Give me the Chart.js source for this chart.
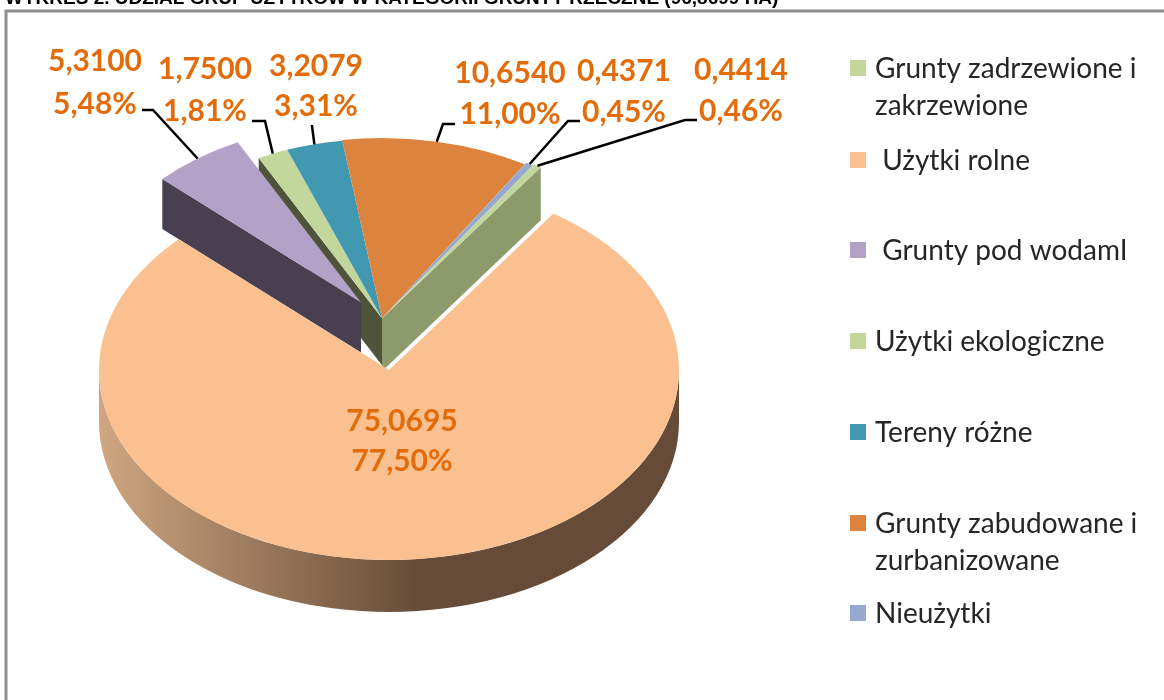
<!DOCTYPE html>
<html>
<head>
<meta charset="utf-8">
<script src="https://cdn.jsdelivr.net/npm/chart.js@4"></script>
<style>
html,body{margin:0;padding:0;background:#fff;overflow:hidden;}
#wrap{position:relative;width:1164px;height:700px;}
</style>
</head>
<body>
<div id="wrap"><canvas id="pieChart" width="1164" height="700"></canvas></div>
<script>
// DATA
const titleText = "WYKRES 2. UDZIAŁ GRUP UŻYTKÓW W KATEGORII GRUNTY RZECZNE (96,8699 HA)";
const categories = [
  "Grunty zadrzewione i zakrzewione",
  "Użytki rolne",
  "Grunty pod wodamI",
  "Użytki ekologiczne",
  "Tereny różne",
  "Grunty zabudowane i zurbanizowane",
  "Nieużytki"
];
const legendLines = [
  ["Grunty zadrzewione i", "zakrzewione"],
  [" Użytki rolne"],
  [" Grunty pod wodamI"],
  ["Użytki ekologiczne"],
  ["Tereny różne"],
  ["Grunty zabudowane i", "zurbanizowane"],
  ["Nieużytki"]
];
const valuesHa = [0.4414, 75.0695, 5.3100, 1.7500, 3.2079, 10.6540, 0.4371];
const valueLabels = ["0,4414", "75,0695", "5,3100", "1,7500", "3,2079", "10,6540", "0,4371"];
const shareLabels = ["0,46%", "77,50%", "5,48%", "1,81%", "3,31%", "11,00%", "0,45%"];

// STYLE
const sliceColors = ["#c3d69b", "#fbc08f", "#b3a2c7", "#c3d69b", "#4298b0", "#dc843d", "#95a9d1"];
const textOrange = "#e36c0a";
const tilt = 0.655;
const startRotation = 32.9;

// how far each slice is pulled out of the pie, before the tilt
const sliceShift = [[-7,-79],[0,0],[-28,-103],[-7,-79],[-7,-79],[-7,-79],[-7,-79]];
const sliceRadius = [280, 290, 274, 274, 274, 275, 278];
const sliceDepth = [53, 52, 50, 47, 47, 47, 47];
const sideWalls = [[3,"startAngle","#4f5339"],[2,"startAngle","#483f50"],[0,"endAngle","#8d9a6c"]];
const topOrder = [2,3,4,5,6,0];

// where each label sits: value line, share line, leader start, leader elbow
const labelPos = [
  {x:741, y1:70, y2:111, line:[[697,120],[685,120]]},
  {x:402, y1:421, y2:461, line:null},
  {x:95, y1:61, y2:104, line:[[142,110],[153,110]]},
  {x:205, y1:69, y2:111, line:[[252,121],[265,121]]},
  {x:316, y1:66, y2:106, line:[[312,125],[312,126]]},
  {x:510, y1:73, y2:114, line:[[455,124],[443,124]]},
  {x:624, y1:71, y2:112, line:[[580,121],[568,121]]}
];
const legendY = [69,161,251,342,433,524,614];

// PIE
function rimPath(ctx,arc,depth){
  const lo = Math.max(arc.startAngle,0);
  const hi = Math.min(arc.endAngle,Math.PI);
  ctx.beginPath();
  ctx.arc(arc.x,arc.y,arc.outerRadius,lo,hi);
  ctx.arc(arc.x,arc.y+depth,arc.outerRadius,hi,lo,true);
  ctx.closePath();
}

function wallPath(ctx,arc,angle,depth){
  const ex = arc.x+arc.outerRadius*Math.cos(angle);
  const ey = arc.y+arc.outerRadius*Math.sin(angle);
  ctx.beginPath();
  ctx.moveTo(arc.x,arc.y);
  ctx.lineTo(ex,ey);
  ctx.lineTo(ex,ey+depth);
  ctx.lineTo(arc.x,arc.y+depth);
  ctx.closePath();
}

const pie3d = {
  id:"pie3d",
  afterDatasetsUpdate(chart){
    chart.getDatasetMeta(0).data.forEach((arc,i)=>{
      arc.x += sliceShift[i][0];
      arc.y += sliceShift[i][1];
      arc.outerRadius = sliceRadius[i];
    });
  },
  beforeDatasetsDraw(chart){
    const ctx = chart.ctx;
    const arcs = chart.getDatasetMeta(0).data;
    const big = arcs[1];
    const pivot = big.y;

    ctx.save();
    ctx.translate(0,pivot);
    ctx.scale(1,tilt);
    ctx.translate(0,-pivot);

    sideWalls.forEach(w=>{
      const arc = arcs[w[0]];
      wallPath(ctx,arc,arc[w[1]],sliceDepth[w[0]]/tilt);
      ctx.fillStyle = w[2];
      ctx.fill();
    });

    topOrder.forEach(i=>arcs[i].draw(ctx));

    const grad = ctx.createLinearGradient(big.x-big.outerRadius,0,big.x+big.outerRadius,0);
    grad.addColorStop(0,"#cfa680");
    grad.addColorStop(0.55,"#664c38");
    grad.addColorStop(1,"#664c38");
    rimPath(ctx,big,sliceDepth[1]/tilt);
    ctx.fillStyle = grad;
    ctx.fill();

    big.draw(ctx);
    ctx.restore();

    return false;
  }
};

// LABELS
const decorations = {
  id:"decorations",
  beforeDraw(chart){
    const ctx = chart.ctx;
    ctx.save();
    ctx.strokeStyle = "#8e8e8e";
    ctx.lineWidth = 3;
    ctx.strokeRect(6,11,1400,900);
    ctx.restore();
  },
  afterDraw(chart){
    const ctx = chart.ctx;
    const arcs = chart.getDatasetMeta(0).data;
    const pivot = arcs[1].y;
    ctx.save();

    // title, cut by the top of the page like in the scan
    ctx.fillStyle = "#000";
    ctx.font = "bold 19px 'Liberation Sans'";
    ctx.textAlign = "left";
    ctx.textBaseline = "alphabetic";
    ctx.fillText(titleText,5,4);

    // leaders
    ctx.strokeStyle = "#000";
    ctx.lineWidth = 2.5;
    labelPos.forEach((p,i)=>{
      if(!p.line) return;
      const arc = arcs[i];
      const mid = (arc.startAngle+arc.endAngle)/2;
      const rx = arc.x+arc.outerRadius*Math.cos(mid);
      const ry = pivot+tilt*(arc.y+arc.outerRadius*Math.sin(mid)-pivot);
      ctx.beginPath();
      ctx.moveTo(p.line[0][0],p.line[0][1]);
      ctx.lineTo(p.line[1][0],p.line[1][1]);
      ctx.lineTo(rx,ry);
      ctx.stroke();
    });

    // value and share labels
    ctx.fillStyle = textOrange;
    ctx.font = "bold 30px Lato";
    ctx.textAlign = "center";
    ctx.textBaseline = "middle";
    labelPos.forEach((p,i)=>{
      ctx.fillText(valueLabels[i],p.x,p.y1);
      ctx.fillText(shareLabels[i],p.x,p.y2);
    });

    // legend
    ctx.font = "28px Lato";
    ctx.textAlign = "left";
    legendLines.forEach((lines,i)=>{
      ctx.fillStyle = sliceColors[i];
      ctx.fillRect(850,legendY[i]-9,16,16);
      ctx.fillStyle = "#262626";
      lines.forEach((t,j)=>{
        ctx.fillText(t,875,legendY[i]+j*37);
      });
    });

    ctx.restore();
  }
};

new Chart(document.getElementById("pieChart"),{
  type:"pie",
  data:{
    labels:categories,
    datasets:[{
      data:valuesHa,
      backgroundColor:sliceColors,
      borderWidth:0
    }]
  },
  options:{
    responsive:false,
    animation:false,
    rotation:startRotation,
    layout:{padding:{left:99,right:485,top:80,bottom:40}},
    plugins:{legend:{display:false},tooltip:{enabled:false}}
  },
  plugins:[decorations,pie3d]
});
</script>
</body>
</html>
